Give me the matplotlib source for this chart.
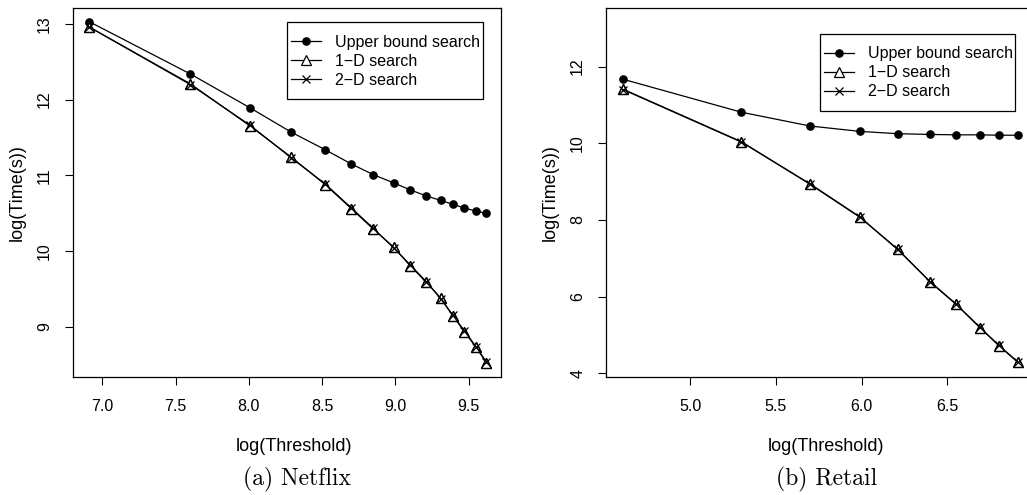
import matplotlib
matplotlib.use('Agg')
import matplotlib.pyplot as plt
from matplotlib.patches import Rectangle

plt.rcParams['font.family'] = ['Liberation Sans', 'DejaVu Sans']

# Netflix panel
netflix_x = [6.91, 7.60, 8.01, 8.29, 8.52, 8.70, 8.85, 8.99, 9.10, 9.21, 9.31, 9.39, 9.47, 9.55, 9.62]
netflix_upper = [13.03, 12.34, 11.89, 11.57, 11.34, 11.15, 11.01, 10.90, 10.81, 10.73, 10.67, 10.62, 10.57, 10.53, 10.50]
netflix_1d = [12.96, 12.21, 11.65, 11.24, 10.88, 10.56, 10.29, 10.05, 9.81, 9.59, 9.38, 9.15, 8.94, 8.73, 8.53]
netflix_2d = [12.96, 12.20, 11.66, 11.23, 10.89, 10.57, 10.30, 10.04, 9.82, 9.60, 9.37, 9.16, 8.95, 8.74, 8.54]

# Retail panel
retail_x = [4.61, 5.30, 5.70, 5.99, 6.21, 6.40, 6.55, 6.69, 6.80, 6.91]
retail_upper = [11.67, 10.81, 10.45, 10.31, 10.25, 10.23, 10.22, 10.22, 10.21, 10.21]
retail_1d = [11.41, 10.04, 8.93, 8.07, 7.24, 6.38, 5.80, 5.19, 4.72, 4.29]
retail_2d = [11.40, 10.03, 8.94, 8.08, 7.23, 6.39, 5.81, 5.20, 4.73, 4.30]

labels = ['Upper bound search', '1\u2212D search', '2\u2212D search']

fig = plt.figure(figsize=(10.27, 4.95), dpi=100)
ax1 = fig.add_axes([73/1027, 1-377/495, 428/1027, 369/495])
ax2 = fig.add_axes([606/1027, 1-377/495, 427/1027, 369/495])


def draw(ax, x, up, d1, d2, xlim, ylim, xticks, yticks, leg_anchor, leg_box):
    ax.plot(x, up, color='black', lw=0.9, marker='o', ms=5.2, mfc='black', label=labels[0])
    ax.plot(x, d1, color='black', lw=0.9, marker='^', ms=7.5, mfc='white', mew=0.9, label=labels[1])
    ax.plot(x, d2, color='black', lw=0.9, marker='x', ms=5.5, mew=0.9, label=labels[2])
    # put the triangles back on top of the crosses
    ax.plot(x, d1, color='none', marker='^', ms=7.5, mfc='none', mec='black', mew=0.9)
    ax.set_xlim(*xlim)
    ax.set_ylim(*ylim)
    ax.set_xticks(xticks)
    ax.set_xticklabels(['%.1f' % t for t in xticks])
    ax.set_yticks(yticks)
    ax.set_yticklabels([str(t) for t in yticks], rotation=90, va='center')
    ax.tick_params(length=6, width=0.8, labelsize=11.5, colors='black')
    ax.tick_params(axis='x', pad=10)
    ax.tick_params(axis='y', pad=9)
    for s in ax.spines.values():
        s.set_linewidth(0.9)
    ax.set_xlabel('log(Threshold)', fontsize=13)
    ax.set_ylabel('log(Time(s))', fontsize=13, labelpad=8)
    ax.xaxis.set_label_coords(0.5 + 7/428, -0.166)
    ax.legend(loc='upper left', bbox_to_anchor=leg_anchor, borderaxespad=0,
              fontsize=11.5, numpoints=1, frameon=False, borderpad=0,
              labelspacing=0.25, handlelength=1.9, handletextpad=0.85)
    x0, y0, x1, y1 = leg_box
    ax.add_patch(Rectangle((x0, y0), x1 - x0, y1 - y0, transform=ax.transAxes,
                           fill=False, edgecolor='black', lw=0.9, zorder=5))


draw(ax1, netflix_x, netflix_upper, netflix_1d, netflix_2d,
     (6.80, 9.72), (8.34, 13.21), [7.0, 7.5, 8.0, 8.5, 9.0, 9.5], [9, 10, 11, 12, 13],
     (0.509, 0.928), (0.5, 0.753, 0.958, 0.962))
draw(ax2, retail_x, retail_upper, retail_1d, retail_2d,
     (4.51, 7.00), (3.90, 13.53), [5.0, 5.5, 6.0, 6.5], [4, 6, 8, 10, 12],
     (0.51, 0.896), (0.5, 0.72, 0.959, 0.929))

fig.text(297/1027, 1-479/495, '(a) Netflix', family='cmr10', fontsize=17, ha='center', va='center')
fig.text(827/1027, 1-479/495, '(b) Retail', family='cmr10', fontsize=17, ha='center', va='center')

fig.savefig('out.png', dpi=100)
